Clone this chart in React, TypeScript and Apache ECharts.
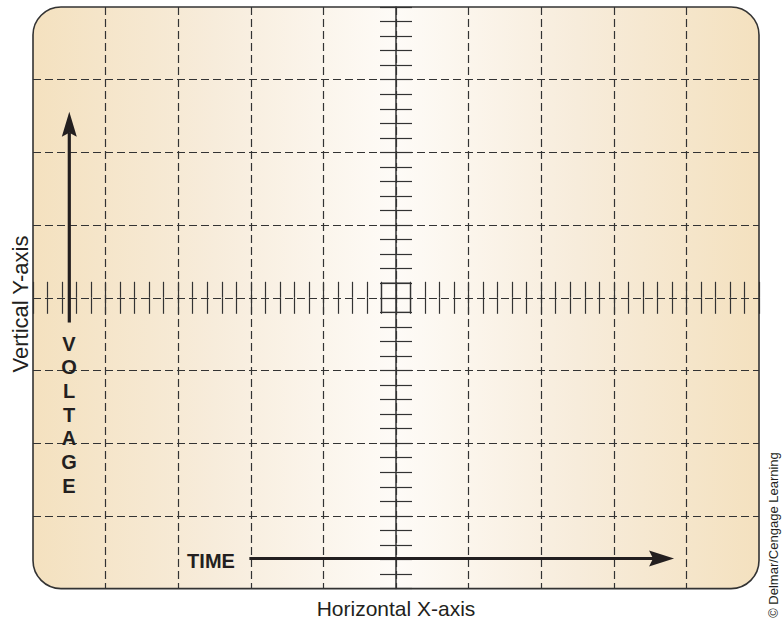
import React, { useEffect, useRef } from 'react';
import * as echarts from 'echarts';

// Graticule ranges in major divisions (10 x 8 screen)
const xRange = [-5, 5];
const yRange = [-4, 4];
const majorStep = 1;
const minorSplits = 5;

// Centre box: [x1, y1, x2, y2]
const centerBox = [[-0.2, -0.2, 0.2, 0.2]];
// Arrows: [tailX, tailY, tipX, tipY]
const voltageArrow = [[-4.5, -0.34, -4.5, 2.56]];
const timeArrow = [[-2.02, -3.586, 3.83, -3.586]];

const voltageLetters = ['V', 'O', 'L', 'T', 'A', 'G', 'E'];
const timeText = 'TIME';
const yAxisTitle = 'Vertical Y-axis';
const xAxisTitle = 'Horizontal X-axis';
const creditText = '© Delmar/Cengage Learning';

const INK = '#333333';
const TEXT = '#231f20';
const FONT = '"Liberation Sans", Arial, Helvetica, sans-serif';

const GRID = { left: 33, top: 7, width: 726, height: 581.6 };

export default function App() {
  const ref = useRef<HTMLDivElement>(null);

  useEffect(() => {
    if (!ref.current) return;
    const chart = echarts.init(ref.current, undefined, { renderer: 'svg' });

    const tickLine = { color: INK, width: 1.2 };
    const dashed = { color: INK, width: 1.2, type: [8, 4] as any };

    const mkX = (pos: string, main: boolean) => ({
      type: 'value',
      min: xRange[0],
      max: xRange[1],
      interval: majorStep,
      position: pos,
      z: 3,
      axisLine: { show: false, onZero: true, onZeroAxisIndex: 0 },
      axisTick: { show: true, inside: false, length: 16, lineStyle: tickLine },
      minorTick: { show: true, splitNumber: minorSplits, length: 16, lineStyle: tickLine },
      axisLabel: { show: false },
      splitLine: main
        ? { show: true, showMinLine: false, showMaxLine: false, lineStyle: dashed }
        : { show: false },
    });
    const mkY = (pos: string, main: boolean) => ({
      type: 'value',
      min: yRange[0],
      max: yRange[1],
      interval: majorStep,
      position: pos,
      z: 3,
      axisLine: {
        show: main,
        onZero: true,
        onZeroAxisIndex: 0,
        lineStyle: { color: INK, width: 1.5 },
      },
      axisTick: { show: true, inside: false, length: 16, lineStyle: tickLine },
      minorTick: { show: true, splitNumber: minorSplits, length: 16, lineStyle: tickLine },
      axisLabel: { show: false },
      splitLine: main
        ? { show: true, showMinLine: false, showMaxLine: false, lineStyle: dashed }
        : { show: false },
    });

    const arrowRender = (headLen: number, headW: number) => (params: any, api: any) => {
      const a = api.coord([api.value(0), api.value(1)]);
      const b = api.coord([api.value(2), api.value(3)]);
      const dx = b[0] - a[0];
      const dy = b[1] - a[1];
      const len = Math.hypot(dx, dy);
      const ux = dx / len;
      const uy = dy / len;
      const nx = -uy;
      const ny = ux;
      const bx = b[0] - ux * headLen;
      const by = b[1] - uy * headLen;
      return {
        type: 'group',
        children: [
          {
            type: 'line',
            shape: { x1: a[0], y1: a[1], x2: bx + ux * 4, y2: by + uy * 4 },
            style: { stroke: TEXT, lineWidth: 3.2 },
          },
          {
            type: 'polygon',
            shape: {
              points: [
                [b[0], b[1]],
                [bx + nx * headW, by + ny * headW],
                [bx + ux * 4, by + uy * 4],
                [bx - nx * headW, by - ny * headW],
              ],
            },
            style: { fill: TEXT },
          },
        ],
      };
    };

    const bg = new echarts.graphic.LinearGradient(0, 0, 1, 0, [
      { offset: 0, color: '#f4e1bf' },
      { offset: 0.25, color: '#f7ecdb' },
      { offset: 0.5, color: '#fefbf7' },
      { offset: 0.75, color: '#f7ecdb' },
      { offset: 1, color: '#f4e1bf' },
    ]);

    const letterEls = voltageLetters.map((ch, i) => ({
      type: 'text',
      z: 10,
      x: 69,
      y: 343.5 + i * 23.7,
      style: {
        text: ch,
        font: `bold 20px ${FONT}`,
        fill: TEXT,
        align: 'center',
        verticalAlign: 'middle',
      },
    }));

    const option: any = {
      animation: false,
      grid: { ...GRID, containLabel: false, show: false },
      xAxis: [mkX('bottom', true), mkX('top', false)],
      yAxis: [mkY('left', true), mkY('right', false)],
      graphic: [
        {
          type: 'rect',
          z: 0,
          shape: { x: GRID.left, y: GRID.top, width: GRID.width, height: GRID.height, r: 28 },
          style: { fill: bg },
        },
        {
          type: 'rect',
          z: 10,
          shape: { x: GRID.left, y: GRID.top, width: GRID.width, height: GRID.height, r: 28 },
          style: { fill: 'none', stroke: INK, lineWidth: 1.6 },
        },
        ...letterEls,
        {
          type: 'text',
          z: 10,
          x: 211,
          y: 561,
          style: {
            text: timeText,
            font: `bold 20px ${FONT}`,
            fill: TEXT,
            align: 'center',
            verticalAlign: 'middle',
          },
        },
        {
          type: 'text',
          z: 10,
          x: 396,
          y: 608,
          style: {
            text: xAxisTitle,
            font: `21px ${FONT}`,
            fill: TEXT,
            align: 'center',
            verticalAlign: 'middle',
          },
        },
        {
          type: 'text',
          z: 10,
          x: 20,
          y: 304,
          rotation: Math.PI / 2,
          style: {
            text: yAxisTitle,
            font: `22px ${FONT}`,
            fill: TEXT,
            align: 'center',
            verticalAlign: 'middle',
          },
        },
        {
          type: 'text',
          z: 10,
          x: 773,
          y: 535,
          rotation: Math.PI / 2,
          style: {
            text: creditText,
            font: `13px ${FONT}`,
            fill: TEXT,
            align: 'center',
            verticalAlign: 'middle',
          },
        },
      ],
      series: [
        {
          type: 'custom',
          z: 4,
          xAxisIndex: 0,
          yAxisIndex: 0,
          encode: { x: [0, 2], y: [1, 3] },
          data: centerBox,
          renderItem: (params: any, api: any) => {
            const p1 = api.coord([api.value(0), api.value(3)]);
            const p2 = api.coord([api.value(2), api.value(1)]);
            return {
              type: 'rect',
              shape: { x: p1[0], y: p1[1], width: p2[0] - p1[0], height: p2[1] - p1[1] },
              style: { fill: 'none', stroke: INK, lineWidth: 1.3 },
            };
          },
        },
        {
          type: 'custom',
          z: 5,
          xAxisIndex: 0,
          yAxisIndex: 0,
          encode: { x: [0, 2], y: [1, 3] },
          data: voltageArrow,
          renderItem: arrowRender(25, 7.5),
        },
        {
          type: 'custom',
          z: 5,
          xAxisIndex: 0,
          yAxisIndex: 0,
          encode: { x: [0, 2], y: [1, 3] },
          data: timeArrow,
          renderItem: arrowRender(25, 8),
        },
      ],
    };

    chart.setOption(option);
    return () => chart.dispose();
  }, []);

  return (
    <div
      ref={ref}
      style={{ position: 'fixed', left: 0, top: 0, width: 782, height: 623, background: '#ffffff' }}
    />
  );
}
